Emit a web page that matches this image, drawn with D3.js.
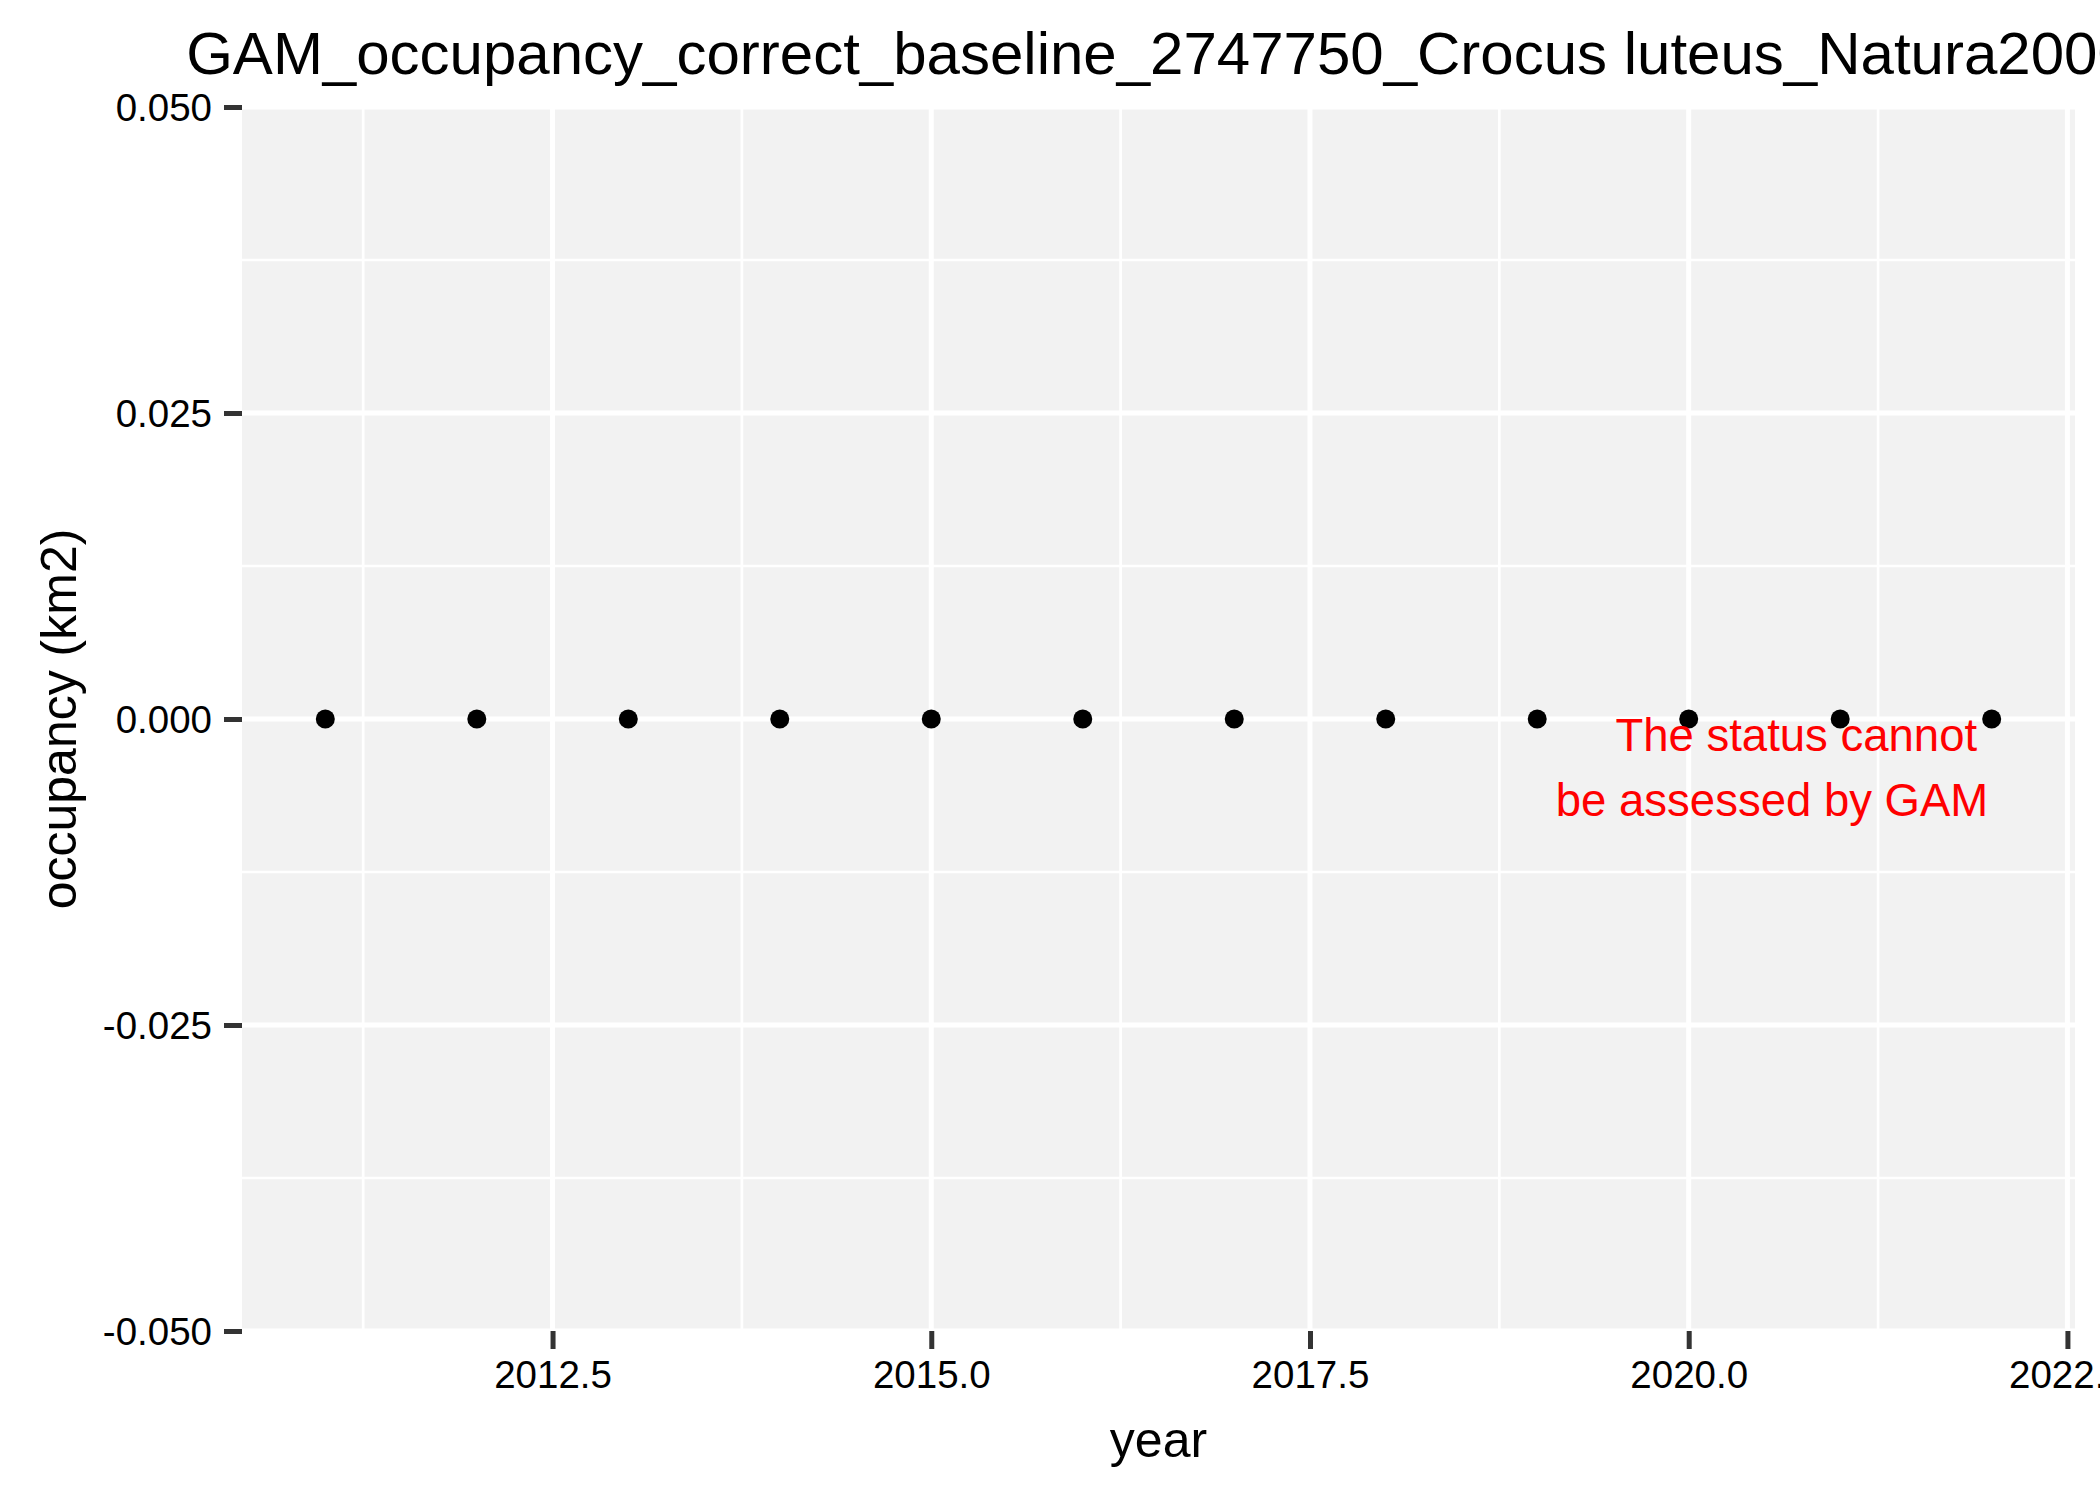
<!DOCTYPE html>
<html>
<head>
<meta charset="utf-8">
<script src="https://cdn.jsdelivr.net/npm/d3@7"></script>
<style>
  body { margin: 0; background: #fff; }
  svg { display: block; font-family: "Liberation Sans", Arial, sans-serif; }
</style>
</head>
<body>
<div id="chart"></div>
<script>
// values
var years = [2011, 2012, 2013, 2014, 2015, 2016, 2017, 2018, 2019, 2020, 2021, 2022];
var occupancy = [0, 0, 0, 0, 0, 0, 0, 0, 0, 0, 0, 0];
var xTicks = [2012.5, 2015.0, 2017.5, 2020.0, 2022.5];
var xMinor = [2011.25, 2013.75, 2016.25, 2018.75, 2021.25];
var yTicks = [-0.050, -0.025, 0.000, 0.025, 0.050];
var yMinor = [-0.0375, -0.0125, 0.0125, 0.0375];
var noteLines = ["The status cannot", "be assessed by GAM"];
var noteX = [2020.71, 2020.55];
var noteY = [-0.0026, -0.0079];
var title = "GAM_occupancy_correct_baseline_2747750_Crocus luteus_Natura2000";

var width = 2100, height = 1499;
var panel = {left: 242, right: 2075, top: 107, bottom: 1331};

var svg = d3.select("#chart").append("svg")
    .attr("width", width)
    .attr("height", height);

svg.append("rect").attr("width", width).attr("height", height).attr("fill", "#ffffff");

// ggplot style 5% expansion on x, y range fixed at +-0.05
var span = d3.max(years) - d3.min(years);
var x = d3.scaleLinear()
    .domain([d3.min(years) - 0.05 * span, d3.max(years) + 0.05 * span])
    .range([panel.left, panel.right]);
var y = d3.scaleLinear()
    .domain([-0.05, 0.05])
    .range([panel.bottom, panel.top]);

var fmt = d3.formatLocale({decimal: ".", thousands: ",", grouping: [3], currency: ["", ""], minus: "-"});

svg.append("rect")
    .attr("x", panel.left).attr("y", panel.top)
    .attr("width", panel.right - panel.left)
    .attr("height", panel.bottom - panel.top)
    .attr("fill", "#f2f2f2");

var grid = svg.append("g");
grid.selectAll(".xminor").data(xMinor).enter().append("line")
    .attr("x1", x).attr("x2", x)
    .attr("y1", panel.top).attr("y2", panel.bottom)
    .attr("stroke", "#fff").attr("stroke-width", 2.7);
grid.selectAll(".yminor").data(yMinor).enter().append("line")
    .attr("y1", y).attr("y2", y)
    .attr("x1", panel.left).attr("x2", panel.right)
    .attr("stroke", "#fff").attr("stroke-width", 2.7);
grid.selectAll(".xmajor").data(xTicks).enter().append("line")
    .attr("x1", x).attr("x2", x)
    .attr("y1", panel.top).attr("y2", panel.bottom)
    .attr("stroke", "#fff").attr("stroke-width", 5);
grid.selectAll(".ymajor").data(yTicks).enter().append("line")
    .attr("y1", y).attr("y2", y)
    .attr("x1", panel.left).attr("x2", panel.right)
    .attr("stroke", "#fff").attr("stroke-width", 5);

// axes
var xAxis = d3.axisBottom(x).tickValues(xTicks).tickSize(18).tickPadding(12)
    .tickFormat(fmt.format(".1f"));
var yAxis = d3.axisLeft(y).tickValues(yTicks).tickSize(18).tickPadding(12)
    .tickFormat(fmt.format(".3f"));

var gx = svg.append("g").attr("transform", "translate(0," + panel.bottom + ")").call(xAxis);
var gy = svg.append("g").attr("transform", "translate(" + panel.left + ",0)").call(yAxis);
[gx, gy].forEach(function(g) {
    g.select(".domain").remove();
    g.selectAll(".tick line").attr("stroke", "#333333").attr("stroke-width", 5);
    g.selectAll(".tick text").attr("fill", "#000").attr("font-size", 38.5)
        .attr("font-family", "Liberation Sans, Arial, sans-serif");
});
gy.selectAll(".tick text").attr("dy", "0.36em");

// points
svg.append("g").selectAll("circle")
    .data(years)
    .enter().append("circle")
    .attr("cx", function(d) { return x(d); })
    .attr("cy", function(d, i) { return y(occupancy[i]); })
    .attr("r", 9.5)
    .attr("fill", "#000");

// annotation
svg.append("g").selectAll("text")
    .data(noteLines)
    .enter().append("text")
    .attr("x", function(d, i) { return x(noteX[i]); })
    .attr("y", function(d, i) { return y(noteY[i]); })
    .attr("text-anchor", "middle")
    .attr("font-size", 45.5)
    .attr("fill", "#ff0000")
    .text(function(d) { return d; });

// titles
svg.append("text")
    .attr("x", (panel.left + panel.right) / 2)
    .attr("y", 74)
    .attr("text-anchor", "middle")
    .attr("font-size", 60)
    .attr("fill", "#000")
    .text(title);

svg.append("text")
    .attr("x", (panel.left + panel.right) / 2)
    .attr("y", 1457)
    .attr("text-anchor", "middle")
    .attr("font-size", 50)
    .attr("fill", "#000")
    .text("year");

svg.append("text")
    .attr("transform", "translate(76," + (panel.top + panel.bottom) / 2 + ") rotate(-90)")
    .attr("text-anchor", "middle")
    .attr("font-size", 50)
    .attr("fill", "#000")
    .text("occupancy (km2)");
</script>
</body>
</html>
